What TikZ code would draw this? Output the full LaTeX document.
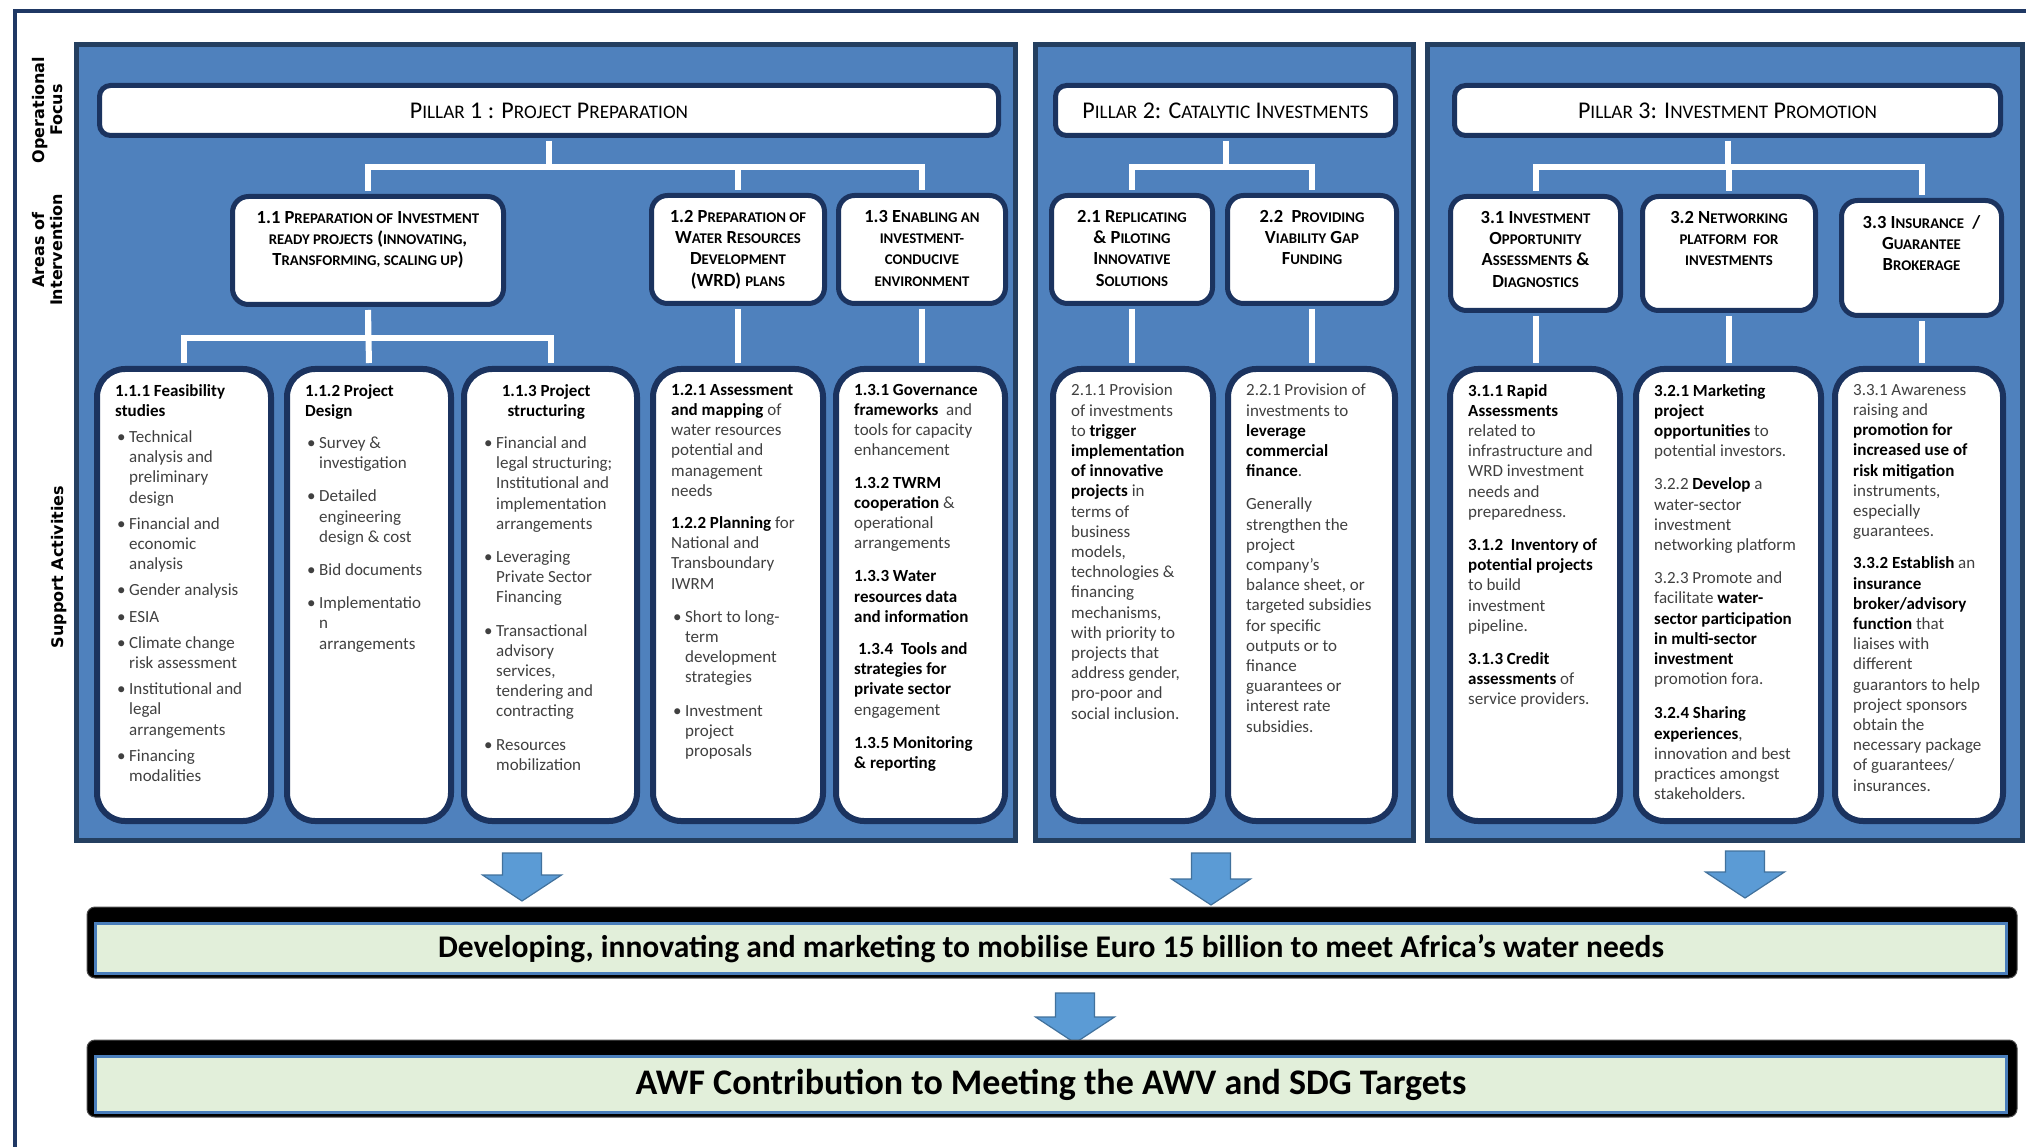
\documentclass[tikz,border=0pt]{standalone}
\usepackage{fontspec}
\setmainfont{Carlito}
\newfontfamily\sidefont{DejaVu Sans}
\usetikzlibrary{positioning}

\definecolor{framecol}{HTML}{1F3864}
\definecolor{panelblue}{HTML}{4F81BD}
\definecolor{panelline}{HTML}{243F60}
\definecolor{navy}{HTML}{1B335F}
\definecolor{txtgray}{HTML}{404040}
\definecolor{arrowblue}{HTML}{5B9BD5}
\definecolor{arrowline}{HTML}{41719C}
\definecolor{bandgreen}{HTML}{E2EFDA}
\definecolor{bandblue}{HTML}{4A7EBB}

\makeatletter
\newcommand\sm[1]{{\fontsize{\fpeval{0.8*\f@size}}{\f@baselineskip}\selectfont\MakeUppercase{#1}}}
\makeatother
\newcommand\bk[1]{\textcolor{black}{\textbf{#1}}}
\newcommand\bu{\hspace*{2pt}\makebox[12pt][l]{\textbullet}}
\newcommand\ind{\hspace*{14pt}}
\newcommand\blockarrow[3]{%
  \draw[barrow] ({#1-19.5},#2) -- ({#1+19.5},#2) -- ({#1+19.5},{#3-26})
     -- ({#1+39.5},{#3-26}) -- (#1,#3) -- ({#1-39.5},{#3-26})
     -- ({#1-19.5},{#3-26}) -- cycle ;}

\tikzset{
  panel/.style={draw=panelline, line width=5pt, fill=panelblue, anchor=north west,
                inner sep=0pt, outer sep=0pt, minimum height=795.5pt},
  hdr/.style={draw=navy, line width=5pt, fill=white, rounded corners=11pt,
              minimum height=50pt, inner sep=0pt, font=\fontsize{24}{26}\selectfont},
  box2/.style={draw=navy, line width=5pt, fill=white, rounded corners=16pt,
               minimum height=108pt, inner sep=0pt},
  lbl/.style={align=center, inner sep=0pt, font=\bfseries\fontsize{18.5}{21.3}\selectfont},
  box3/.style={draw=navy, line width=6pt, fill=white, rounded corners=28pt,
               minimum height=452pt, inner sep=0pt},
  txt/.style={align=left, inner sep=0pt, text=txtgray,
              font=\fontsize{17}{20.2}\selectfont},
  wire/.style={draw=white, line width=6pt, shorten >=3pt, shorten <=3pt},
  side/.style={rotate=90, align=center, inner sep=0pt,
               font=\sidefont\bfseries\fontsize{16}{18}\selectfont},
  barrow/.style={fill=arrowblue, draw=arrowline, line width=1.2pt, line join=miter},
  bandbk/.style={fill=black, draw=black!70, line width=1pt, rounded corners=8pt},
  band/.style={fill=bandgreen, draw=bandblue, line width=3pt, inner sep=0pt,
               minimum width=1911pt, font=\bfseries},
}

\begin{document}
\begin{tikzpicture}[x=1pt,y=-1pt]
\useasboundingbox (0,0) rectangle (2026,1147) ;
\draw[framecol, line width=4pt] (15,1147) -- (15,11.5) -- (2026,11.5) ;

% side captions
\node[side] (opfocus) at (48,110) {Operational\\Focus};
\node[side] (areas) at (48,250) {Areas of\\Intervention};
\node[side] (support) at (59,567) {Support Activities};

% pillars
\node[panel, minimum width=938.5pt] (pan1) at (76.5,44.5) {};
\node[panel, minimum width=377.5pt] (pan2) at (1035.5,44.5) {};
\node[panel, minimum width=595pt] (pan3) at (1427,44.5) {};

\node[hdr, minimum width=899pt] (h1) at (549,110.5) {P\sm{illar} 1 : P\sm{roject} P\sm{reparation}};
\node[hdr, minimum width=340pt] (h2) at (1225.5,110.5) {P\sm{illar} 2: C\sm{atalytic} I\sm{nvestments}};
\node[hdr, minimum width=546pt] (h3) at (1727.5,110.5) {P\sm{illar} 3: I\sm{nvestment} P\sm{romotion}};

% areas of intervention
\node[box2, minimum width=271pt] (a11) at (368,250.5) {};
\node[box2, minimum width=173pt] (a12) at (738,249.5) {};
\node[box2, minimum width=167pt] (a13) at (922,249.5) {};
\node[box2, minimum width=161pt] (a21) at (1132,249.5) {};
\node[box2, minimum width=169pt] (a22) at (1312,249.5) {};
\node[box2, minimum width=170pt, minimum height=114pt] (a31) at (1535.5,253.5) {};
\node[box2, minimum width=173pt, minimum height=114pt] (a32) at (1729,253.5) {};
\node[box2, minimum width=160pt, minimum height=115pt] (a33) at (1921.5,258) {};

\node[lbl, below=17pt of a11.north] (l11) {1.1 P\sm{reparation of} I\sm{nvestment}\\\sm{ready projects} (\sm{innovating},\\T\sm{ransforming, scaling up})};
\node[lbl, below=17pt of a12.north] (l12) {1.2 P\sm{reparation of}\\W\sm{ater} R\sm{esources}\\D\sm{evelopment}\\(WRD) \sm{plans}};
\node[lbl, below=17pt of a13.north] (l13) {1.3 E\sm{nabling an}\\\sm{investment-}\\\sm{conducive}\\\sm{environment}};
\node[lbl, below=17pt of a21.north] (l21) {2.1 R\sm{eplicating}\\\& P\sm{iloting}\\I\sm{nnovative}\\S\sm{olutions}};
\node[lbl, below=17pt of a22.north] (l22) {2.2\ \ P\sm{roviding}\\V\sm{iability} G\sm{ap}\\F\sm{unding}};
\node[lbl, below=17pt of a31.north] (l31) {3.1 I\sm{nvestment}\\O\sm{pportunity}\\A\sm{ssessments} \&\\D\sm{iagnostics}};
\node[lbl, below=17pt of a32.north] (l32) {3.2 N\sm{etworking}\\\sm{platform\ \ for}\\\sm{investments}};
\node[lbl, below=17pt of a33.north] (l33) {3.3 I\sm{nsurance}\ \ /\\G\sm{uarantee}\\B\sm{rokerage}};

% support activities
\node[box3, minimum width=174pt] (b111) at (184,595) {};
\node[box3, minimum width=164pt] (b112) at (369,595) {};
\node[box3, minimum width=173pt] (b113) at (550.5,595) {};
\node[box3, minimum width=170pt] (b12) at (738,595) {};
\node[box3, minimum width=169pt] (b13) at (920.5,595) {};
\node[box3, minimum width=160pt] (b21) at (1133,595) {};
\node[box3, minimum width=167pt] (b22) at (1311.5,595) {};
\node[box3, minimum width=170pt] (b31) at (1535,595) {};
\node[box3, minimum width=185pt] (b32) at (1728.5,595) {};
\node[box3, minimum width=168pt] (b33) at (1919,595) {};

% connectors
\draw[wire] (h1.south) -- ++(0,29) -| (a11.north) ;
\draw[wire] (h1.south) -- ++(0,29) -| (a12.north) ;
\draw[wire] (h1.south) -- ++(0,29) -| (a13.north) ;
\draw[wire] (h2.south) -- ++(0,29) -| (a21.north) ;
\draw[wire] (h2.south) -- ++(0,29) -| (a22.north) ;
\draw[wire] (h3.south) -- ++(0,29) -| (a31.north) ;
\draw[wire] (h3.south) -- ++(0,29) -| (a32.north) ;
\draw[wire] (h3.south) -- ++(0,29) -| (a33.north) ;
\draw[wire] (a11.south) -- ++(0,31) -| (b111.north) ;
\draw[wire] (a11.south) -- (b112.north) ;
\draw[wire] (a11.south) -- ++(0,31) -| (b113.north) ;
\draw[wire] (a12.south) -- (a12.south |- b12.north) ;
\draw[wire] (a13.south) -- (a13.south |- b13.north) ;
\draw[wire] (a21.south) -- (a21.south |- b21.north) ;
\draw[wire] (a22.south) -- (a22.south |- b22.north) ;
\draw[wire] (a31.south) -- (a31.south |- b31.north) ;
\draw[wire] (a32.south) -- (a32.south |- b32.north) ;
\draw[wire] (a33.south) -- (a33.south |- b33.north) ;

\node[txt, below right=18pt and 21pt of b111.north west] (t111) {%
\bk{1.1.1 Feasibility}\\
\bk{studies}\\[6pt]
\bu Technical\\
\ind analysis and\\
\ind preliminary\\
\ind design\\[6pt]
\bu Financial and\\
\ind economic\\
\ind analysis\\[6pt]
\bu Gender analysis\\[6pt]
\bu ESIA\\[6pt]
\bu Climate change\\
\ind risk assessment\\[6pt]
\bu Institutional and\\
\ind legal\\
\ind arrangements\\[6pt]
\bu Financing\\
\ind modalities};
\node[txt, below right=18pt and 21pt of b112.north west] (t112) {%
\bk{1.1.2 Project}\\
\bk{Design}\\[12pt]
\bu Survey \&\\
\ind investigation\\[13pt]
\bu Detailed\\
\ind engineering\\
\ind design \& cost\\[13pt]
\bu Bid documents\\[13pt]
\bu Implementatio\\
\ind n\\
\ind arrangements};
\node[txt, below right=18pt and 21pt of b113.north west] (t113) {%
\makebox[128pt]{\bk{1.1.3 Project}}\\
\makebox[128pt]{\bk{structuring}}\\[12pt]
\bu Financial and\\
\ind legal structuring;\\
\ind Institutional and\\
\ind implementation\\
\ind arrangements\\[13pt]
\bu Leveraging\\
\ind Private Sector\\
\ind Financing\\[13pt]
\bu Transactional\\
\ind advisory\\
\ind services,\\
\ind tendering and\\
\ind contracting\\[13pt]
\bu Resources\\
\ind mobilization};
\node[txt, below right=18pt and 21pt of b12.north west] (t12) {%
\bk{1.2.1 Assessment}\\
\bk{and mapping} of\\
water resources\\
potential and\\
management\\
needs\\[12pt]
\bk{1.2.2 Planning} for\\
National and\\
Transboundary\\
IWRM\\[13pt]
\bu Short to long-\\
\ind term\\
\ind development\\
\ind strategies\\[13pt]
\bu Investment\\
\ind project\\
\ind proposals};
\node[txt, below right=18pt and 21pt of b13.north west] (t13) {%
\bk{1.3.1 Governance}\\
\bk{frameworks}\ \ and\\
tools for capacity\\
enhancement\\[12pt]
\bk{1.3.2 TWRM}\\
\bk{cooperation} \&\\
operational\\
arrangements\\[13pt]
\bk{1.3.3 Water}\\
\bk{resources data}\\
\bk{and information}\\[12pt]
\hspace*{4pt}\bk{1.3.4\ \ Tools and}\\
\bk{strategies for}\\
\bk{private sector}\\
engagement\\[13pt]
\bk{1.3.5 Monitoring}\\
\bk{\& reporting}};
\node[txt, below right=18pt and 21pt of b21.north west] (t21) {%
2.1.1 Provision\\
of investments\\
to \bk{trigger}\\
\bk{implementation}\\
\bk{of innovative}\\
\bk{projects} in\\
terms of\\
business\\
models,\\
technologies \&\\
financing\\
mechanisms,\\
with priority to\\
projects that\\
address gender,\\
pro-poor and\\
social inclusion.};
\node[txt, below right=18pt and 21pt of b22.north west] (t22) {%
2.2.1 Provision of\\
investments to\\
\bk{leverage}\\
\bk{commercial}\\
\bk{finance}.\\[13pt]
Generally\\
strengthen the\\
project\\
company’s\\
balance sheet, or\\
targeted subsidies\\
for specific\\
outputs or to\\
finance\\
guarantees or\\
interest rate\\
subsidies.};
\node[txt, below right=18pt and 21pt of b31.north west] (t31) {%
\bk{3.1.1 Rapid}\\
\bk{Assessments}\\
related to\\
infrastructure and\\
WRD investment\\
needs and\\
preparedness.\\[13pt]
\bk{3.1.2\ \ Inventory of}\\
\bk{potential projects}\\
to build\\
investment\\
pipeline.\\[13pt]
\bk{3.1.3 Credit}\\
\bk{assessments} of\\
service providers.};
\node[txt, below right=18pt and 21pt of b32.north west] (t32) {%
\bk{3.2.1 Marketing}\\
\bk{project}\\
\bk{opportunities} to\\
potential investors.\\[13pt]
3.2.2 \bk{Develop} a\\
water-sector\\
investment\\
networking platform\\[13pt]
3.2.3 Promote and\\
facilitate \bk{water-}\\
\bk{sector participation}\\
\bk{in multi-sector}\\
\bk{investment}\\
promotion fora.\\[14pt]
\bk{3.2.4 Sharing}\\
\bk{experiences},\\
innovation and best\\
practices amongst\\
stakeholders.};
\node[txt, below right=18pt and 21pt of b33.north west] (t33) {%
3.3.1 Awareness\\
raising and\\
\bk{promotion for}\\
\bk{increased use of}\\
\bk{risk mitigation}\\
instruments,\\
especially\\
guarantees.\\[12pt]
\bk{3.3.2 Establish} an\\
\bk{insurance}\\
\bk{broker/advisory}\\
\bk{function} that\\
liaises with\\
different\\
guarantors to help\\
project sponsors\\
obtain the\\
necessary package\\
of guarantees/\\
insurances.};

% results
\blockarrow{522}{853}{901}
\blockarrow{1211}{853}{905}
\blockarrow{1745}{851}{898}
\node[bandbk, minimum width=1930pt, minimum height=71pt] (goalbk) at (1052,942.5) {};
\node[band, minimum height=50pt, font=\bfseries\fontsize{31.5}{33}\selectfont] (goal) at (1051,948.5)
  {Developing, innovating and marketing to mobilise Euro 15 billion to meet Africa’s water needs};
\blockarrow{1075}{993}{1043}
\node[bandbk, minimum width=1930pt, minimum height=77pt] (awfbk) at (1052,1078.5) {};
\node[band, minimum height=56pt, font=\bfseries\fontsize{36}{38}\selectfont] (awf) at (1051,1084.5)
  {AWF Contribution to Meeting the AWV and SDG Targets};
\end{tikzpicture}
\end{document}
